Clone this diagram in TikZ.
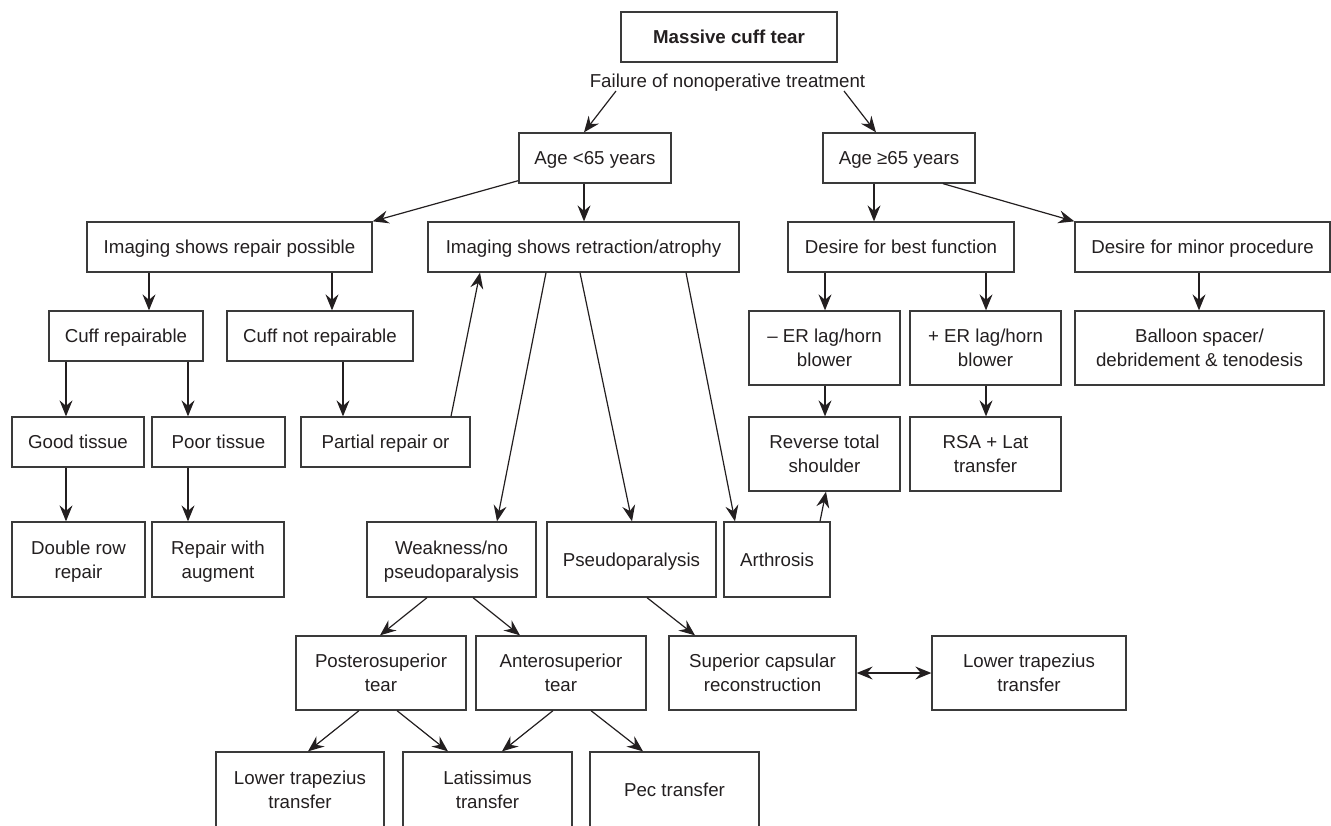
\documentclass[tikz,border=0pt]{standalone}
\usepackage{fontspec}
\setmainfont{Liberation Sans}
\usetikzlibrary{arrows.meta,calc}
\definecolor{ink}{HTML}{231F20}
\definecolor{edge}{HTML}{3A3A3A}
\begin{document}
\begin{tikzpicture}[x=1pt,y=1pt,
  box/.style={draw=edge,line width=1.3pt,inner sep=0pt,align=center,text=ink,
    font=\fontsize{18.7}{24}\selectfont,text height=13.4pt,text depth=0pt},
  two/.style={text height=37.4pt,text depth=0pt},
  plain/.style={inner sep=0pt,text=ink,font=\fontsize{18.7}{24}\selectfont,text height=13.4pt,text depth=0pt},
  tip/.tip={Stealth[length=16pt,width=13pt,inset=5.5pt]},
  arr/.style={draw=ink,line width=1.2pt,-tip},
  darr/.style={draw=ink,line width=1.2pt,tip-tip}]
\useasboundingbox (0,0) rectangle (1331,-825);
\clip (0,0) rectangle (1331,-825);
% row 0
\node[box,minimum width=216,minimum height=50,font=\fontsize{18.7}{24}\selectfont\bfseries] (title) at (729,-37) {Massive cuff tear};
\node[plain] (fail) at (727.5,-81) {Failure of nonoperative treatment};
% row 1
\node[box,minimum width=152,minimum height=50] (age1) at (595,-158) {Age <65 years};
\node[box,minimum width=152,minimum height=50] (age2) at (899,-158) {Age ≥65 years};
% row 2
\node[box,minimum width=285,minimum height=50] (imgrep) at (229.5,-247) {Imaging shows repair possible};
\node[box,minimum width=311,minimum height=50] (imgret) at (583.5,-247) {Imaging shows retraction/atrophy};
\node[box,minimum width=226,minimum height=50] (best) at (901,-247) {Desire for best function};
\node[box,minimum width=255,minimum height=50] (minor) at (1202.5,-247) {Desire for minor procedure};
% row 3
\node[box,minimum width=154,minimum height=50] (cuffrep) at (126,-336) {Cuff repairable};
\node[box,minimum width=186,minimum height=50] (cuffnot) at (320,-336) {Cuff not repairable};
\node[box,two,minimum width=151,minimum height=74] (erm) at (824.5,-348) {– ER lag/horn\\blower};
\node[box,two,minimum width=151,minimum height=74] (erp) at (985.5,-348) {+ ER lag/horn\\blower};
\node[box,two,minimum width=249,minimum height=74] (balloon) at (1199.5,-348) {Balloon spacer/\\debridement \& tenodesis};
% row 4
\node[box,minimum width=132,minimum height=50] (good) at (78,-442) {Good tissue};
\node[box,minimum width=133,minimum height=50] (poor) at (218.5,-442) {Poor tissue};
\node[box,minimum width=169,minimum height=50] (partial) at (385.5,-442) {Partial repair or};
\node[box,two,minimum width=151,minimum height=74] (rts) at (824.5,-454) {Reverse total\\shoulder};
\node[box,two,minimum width=151,minimum height=74] (rsa) at (985.5,-454) {RSA + Lat\\transfer};
% row 5
\node[box,two,minimum width=133,minimum height=75] (double) at (78.5,-559.5) {Double row\\repair};
\node[box,two,minimum width=132,minimum height=75] (augment) at (218,-559.5) {Repair with\\augment};
\node[box,two,minimum width=169,minimum height=75] (weak) at (451.5,-559.5) {Weakness/no\\pseudoparalysis};
\node[box,minimum width=169,minimum height=75] (pseudo) at (631.5,-559.5) {Pseudoparalysis};
\node[box,minimum width=106,minimum height=75] (arth) at (777,-559.5) {Arthrosis};
% row 6
\node[box,two,minimum width=170,minimum height=74] (post) at (381,-673) {Posterosuperior\\tear};
\node[box,two,minimum width=170,minimum height=74] (ant) at (561,-673) {Anterosuperior\\tear};
\node[box,two,minimum width=187,minimum height=74] (scr) at (762.5,-673) {Superior capsular\\reconstruction};
\node[box,two,minimum width=194,minimum height=74] (ltr) at (1029,-673) {Lower trapezius\\transfer};
% row 7
\node[box,two,minimum width=168,minimum height=75] (ltb) at (300,-789.5) {Lower trapezius\\transfer};
\node[box,two,minimum width=169,minimum height=75] (lat) at (487.5,-789.5) {Latissimus\\transfer};
\node[box,minimum width=169,minimum height=75] (pec) at (674.5,-789.5) {Pec transfer};
% connectors
\draw[arr] ($(fail.center)+(-111.5,-10)$) -- (age1.north -| 584,0);
\draw[arr] ($(fail.center)+(116.5,-10)$) -- (age2.north -| 876,0);
\draw[arr] ($(age1.south west)+(0,3)$) -- (imgrep.north east);
\draw[arr] (age1.south -| 584,0) -- (imgret.north -| 584,0);
\draw[arr] (age2.south -| 874,0) -- (best.north -| 874,0);
\draw[arr] (age2.south -| 943,0) -- (minor.north west);
\draw[arr] (imgrep.south -| 149,0) -- (cuffrep.north -| 149,0);
\draw[arr] (imgrep.south -| 332,0) -- (cuffnot.north -| 332,0);
\draw[arr] (best.south -| 825,0) -- (erm.north -| 825,0);
\draw[arr] (best.south -| 986,0) -- (erp.north -| 986,0);
\draw[arr] (minor.south -| 1199,0) -- (balloon.north -| 1199,0);
\draw[arr] (cuffrep.south -| 66,0) -- (good.north -| 66,0);
\draw[arr] (cuffrep.south -| 188,0) -- (poor.north -| 188,0);
\draw[arr] (cuffnot.south -| 343,0) -- (partial.north -| 343,0);
\draw[arr] (erm.south -| 825,0) -- (rts.north -| 825,0);
\draw[arr] (erp.south -| 986,0) -- (rsa.north -| 986,0);
\draw[arr] (good.south -| 66,0) -- (double.north -| 66,0);
\draw[arr] (poor.south -| 188,0) -- (augment.north -| 188,0);
\draw[arr] (partial.north -| 451,0) -- (imgret.south -| 480,0);
\draw[arr] (imgret.south -| 546,0) -- (weak.north -| 497,0);
\draw[arr] (imgret.south -| 580,0) -- (pseudo.north -| 632,0);
\draw[arr] (imgret.south -| 686,0) -- (arth.north -| 735,0);
\draw[arr] (arth.north -| 820,0) -- (rts.south -| 826,0);
\draw[arr] (weak.south -| 427,0) -- (post.north -| 380,0);
\draw[arr] (weak.south -| 473,0) -- (ant.north -| 520,0);
\draw[arr] (pseudo.south -| 647,0) -- (scr.north -| 695,0);
\draw[darr] (scr.east) -- (ltr.west);
\draw[arr] (post.south -| 359,0) -- (ltb.north -| 308,0);
\draw[arr] (post.south -| 397,0) -- (lat.north -| 448,0);
\draw[arr] (ant.south -| 553,0) -- (lat.north -| 502,0);
\draw[arr] (ant.south -| 591,0) -- (pec.north -| 643,0);
\end{tikzpicture}
\end{document}
